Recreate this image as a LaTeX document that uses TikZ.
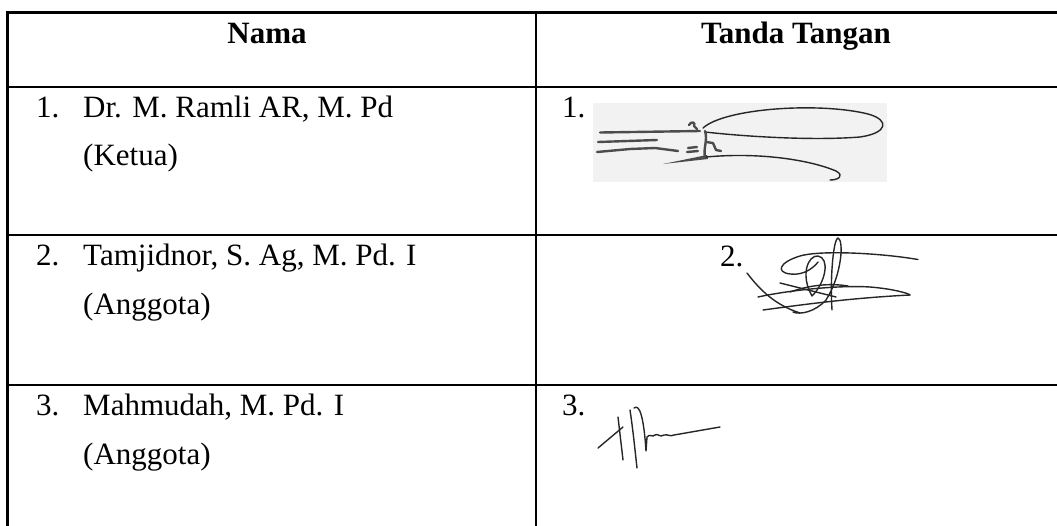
\documentclass[tikz,border=0pt]{standalone}
\usepackage{fontspec}
\setmainfont{Liberation Serif}
\begin{document}
\begin{tikzpicture}[x=1pt,y=-1pt,
  rule/.style={line width=2.4pt, line cap=rect},
  txt/.style={font=\fontsize{31}{37}\selectfont, inner sep=0pt, anchor=base west},
  head/.style={font=\fontsize{31}{37}\selectfont\bfseries, inner sep=0pt, anchor=base},
  sig/.style={line width=1.4pt, line cap=round, line join=round, black!85},
  sigthick/.style={line width=2.4pt, line cap=round, line join=round, black!70}]
\useasboundingbox (0,0) rectangle (1057,525);
% table rules
\coordinate (tl) at (7.5,12.5);
\coordinate (tr) at (1060,12.5);
\coordinate (h1l) at (7.5,87);
\coordinate (h1r) at (1060,87);
\coordinate (h2l) at (7.5,235);
\coordinate (h2r) at (1060,235);
\coordinate (h3l) at (7.5,385);
\coordinate (h3r) at (1060,385);
\coordinate (bl) at (7.5,528);
\coordinate (mt) at (536,12.5);
\coordinate (mb) at (536,528);
\draw[rule] (tl) -- (tr);
\draw[rule] (h1l) -- (h1r);
\draw[rule] (h2l) -- (h2r);
\draw[rule] (h3l) -- (h3r);
\draw[rule] (tl) -- (bl);
\draw[rule] (mt) -- (mb);
% header
\node[head] (hnama) at (267,43) {Nama};
\node[head] (httd) at (796,43) {Tanda Tangan};
% names
\node[txt] (n1) at (36,117) {1.};
\node[txt] (a1) at (83,117) {Dr. M. Ramli AR, M. Pd};
\node[txt] (r1) at (83,165) {(Ketua)};
\node[txt] (n2) at (36,265) {2.};
\node[txt] (a2) at (83,265) {Tamjidnor, S. Ag, M. Pd. I};
\node[txt] (r2) at (83,314) {(Anggota)};
\node[txt] (n3) at (36,415) {3.};
\node[txt] (a3) at (83,415) {Mahmudah, M. Pd. I};
\node[txt] (r3) at (83,464) {(Anggota)};
% signature numbers
\node[txt] (s1) at (562,117) {1.};
\node[txt] (s2) at (720,266) {2.};
\node[txt] (s3) at (562,415) {3.};
% signature 1 (scanned)
\fill[black!5] (593,103) rectangle (887,182);
\draw[sigthick] (600,132.5) -- (700,131);
\draw[sigthick] (598,142) -- (657,140);
\draw[sigthick] (597,152) -- (630,149) -- (655,148) -- (678,151);
\fill[black!70] (663,164) -- (707,155) -- (708,159) -- cycle;
\draw[sig] (703,128) .. controls (725,108) and (820,102) .. (868,114)
  .. controls (890,120) and (888,133) .. (860,137)
  .. controls (810,141) and (740,136) .. (705,132);
\draw[sigthick] (705,131) .. controls (708,140) and (703,148) .. (705,158);
\draw[sigthick] (689,125) .. controls (691,121) and (696,122) .. (694,126) -- (697,129);
\draw[sigthick] (688,148) -- (697,147) (687,152) -- (698,151);
\draw[sigthick] (706,142) -- (713,143) -- (716,150) -- (721,151);
\draw[sig] (706,157) .. controls (760,152) and (810,160) .. (836,171)
  .. controls (845,176) and (838,180) .. (830,180);
% signature 2
\draw[sig] (918,259.5) .. controls (880,253) and (820,250) .. (800,256)
  .. controls (780,262) and (775,272) .. (790,274)
  .. controls (805,276) and (815,266) .. (818,262);
\draw[sig] (812,296) .. controls (800,275) and (808,255) .. (818,256)
  .. controls (830,258) and (826,282) .. (812,296);
\draw[sig] (832,310) .. controls (830,280) and (833,240) .. (838,238)
  .. controls (844,240) and (842,275) .. (826,300)
  .. controls (815,312) and (800,315) .. (793,312);
\draw[sig] (747,273) .. controls (760,290) and (775,305) .. (800,313);
\draw[sig] (758,297) .. controls (790,290) and (840,285) .. (870,287)
  .. controls (895,289) and (910,294) .. (910,295);
\draw[sig] (763,310) .. controls (800,305) and (850,298) .. (910,295);
\draw[sig] (780,283) -- (836,297);
\draw[sig] (790,292) .. controls (810,285) and (830,283) .. (848,286);
% signature 3
\draw[sig] (598,448) -- (623,427);
\draw[sig] (618,417) -- (623,460);
\draw[sig] (630,410) .. controls (633,430) and (635,450) .. (637,468);
\draw[sig] (634,408) .. controls (640,403) and (644,420) .. (646,451)
  -- (647,437) .. controls (650,433) and (652,438) .. (655,435)
  .. controls (658,433) and (660,438) .. (664,435)
  .. controls (668,434) and (670,437) .. (674,435) -- (720,427);
\end{tikzpicture}
\end{document}
